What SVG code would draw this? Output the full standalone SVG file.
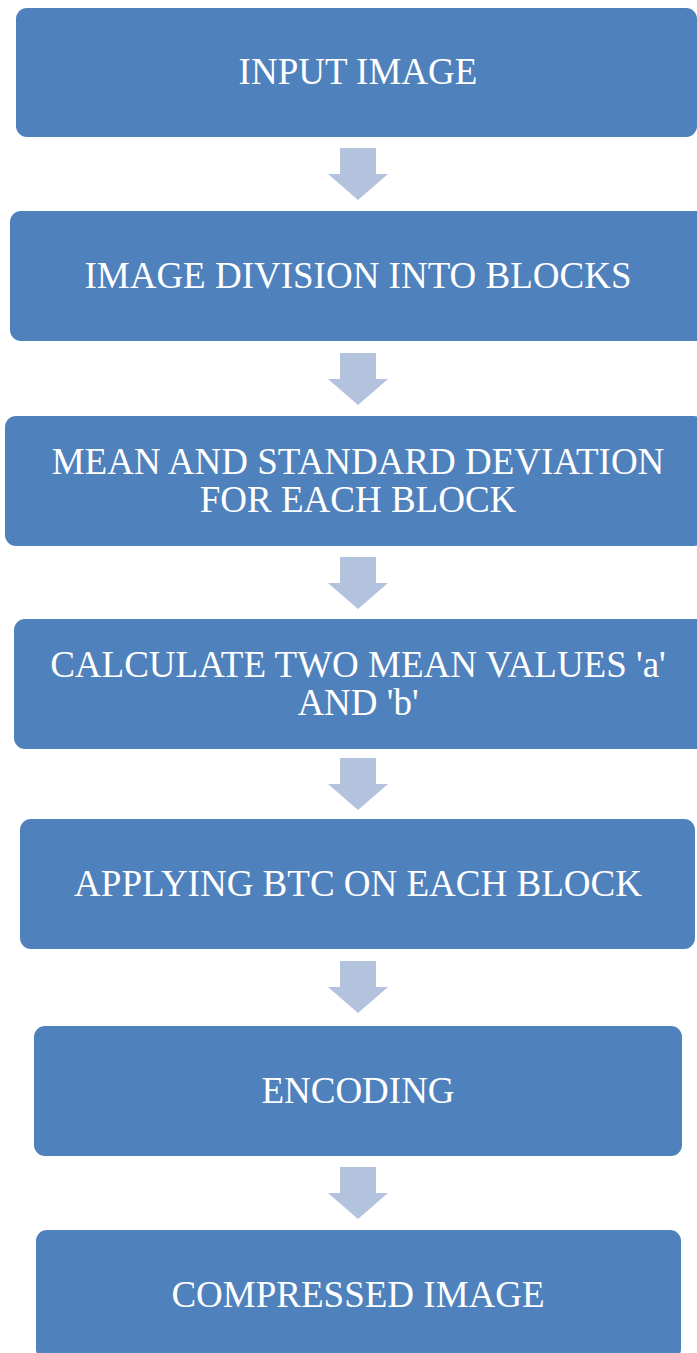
<svg xmlns="http://www.w3.org/2000/svg" width="697" height="1353" viewBox="0 0 697 1353">
<style>
.box{fill:#4F81BD;}
.arr{fill:#B3C3DE;}
.lbl{font-family:"Liberation Serif","Times New Roman",serif;font-size:37px;fill:#FFFFFF;text-anchor:middle;}
</style>
<rect width="697" height="1353" fill="#FFFFFF"/>
<g id="connectors">
<polygon class="arr" points="340,148 376,148 376,174 388,174 358,200 328,174 340,174"/>
<polygon class="arr" points="340,353 376,353 376,379 388,379 358,405 328,379 340,379"/>
<polygon class="arr" points="340,557 376,557 376,583 388,583 358,609 328,583 340,583"/>
<polygon class="arr" points="340,758 376,758 376,784 388,784 358,810 328,784 340,784"/>
<polygon class="arr" points="340,961 376,961 376,987 388,987 358,1013 328,987 340,987"/>
<polygon class="arr" points="340,1167 376,1167 376,1193 388,1193 358,1219 328,1193 340,1193"/>
</g>
<g id="node1">
<rect class="box" x="16" y="8" width="681" height="129" rx="11"/>
<text class="lbl" x="358" y="84">INPUT IMAGE</text>
</g>
<g id="node2">
<rect class="box" x="10" y="211" width="700" height="130" rx="11"/>
<text class="lbl" x="358" y="288">IMAGE DIVISION INTO BLOCKS</text>
</g>
<g id="node3">
<rect class="box" x="5" y="416" width="700" height="130" rx="11"/>
<text class="lbl" x="358" y="474">MEAN AND STANDARD DEVIATION</text>
<text class="lbl" x="358" y="511.5">FOR EACH BLOCK</text>
</g>
<g id="node4">
<rect class="box" x="14" y="619" width="700" height="130" rx="11"/>
<text class="lbl" x="358" y="677">CALCULATE TWO MEAN VALUES 'a'</text>
<text class="lbl" x="358" y="715">AND 'b'</text>
</g>
<g id="node5">
<rect class="box" x="20" y="819" width="675" height="130" rx="11"/>
<text class="lbl" x="358" y="896">APPLYING BTC ON EACH BLOCK</text>
</g>
<g id="node6">
<rect class="box" x="34" y="1026" width="648" height="130" rx="11"/>
<text class="lbl" x="358" y="1103">ENCODING</text>
</g>
<g id="node7">
<rect class="box" x="36" y="1230" width="645" height="130" rx="11"/>
<text class="lbl" x="358" y="1307">COMPRESSED IMAGE</text>
</g>
</svg>
